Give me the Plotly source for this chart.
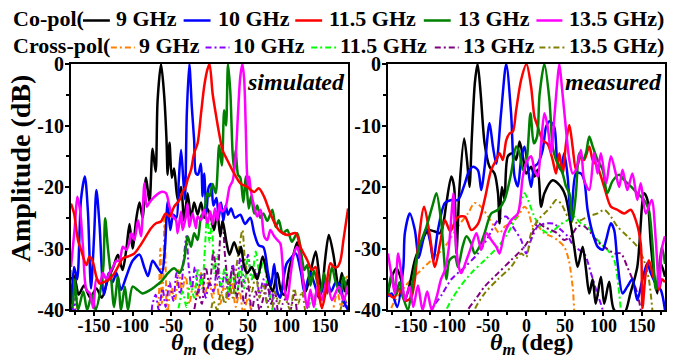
import plotly.graph_objects as go

# ---------------- data ----------------
freq_labels = ["9 GHz", "10 GHz", "11.5 GHz", "13 GHz", "13.5 GHz"]
panel_labels = ["simulated", "measured"]
x_ticks = [-150, -100, -50, 0, 50, 100, 150]
y_ticks = [-40, -30, -20, -10, 0]

# simulated co-pol (theta deg, amplitude dB)
sim_co_9 = [(-180,-35),(-176,-34.5),(-170,-37.5),(-163,-36),(-155,-38),(-147,-36.5),(-140,-38),(-132,-35),(-125,-33),(-119,-31),(-113,-33.5),(-108,-30),(-104,-26),(-100,-30),(-95,-25),(-91,-22.5),(-87,-25),(-82.5,-18.5),(-78,-22.5),(-74,-13.8),(-70,-17.5),(-67.5,-6),(-63,0),(-59,-5),(-56,-12),(-54.4,-18),(-52,-12.8),(-49,-18.5),(-46,-17),(-41.5,-22),(-37,-20),(-33,-25.5),(-28.5,-21),(-24,-25),(-20,-22.5),(-15.5,-24.5),(-11,-22.5),(-7,-25),(-3,-23.5),(2,-25),(6,-27),(10,-24),(14,-28),(17,-25.5),(22,-29),(26,-31),(32,-29),(38,-31),(41,-29.7),(45,-33),(49,-34),(55,-33),(62,-35),(69,-31.3),(76,-35),(82,-37),(88,-34),(93,-37),(97,-37.5),(104,-33),(109,-31),(114,-29),(119,-33),(125,-37),(131,-34),(138,-30.5),(143,-35),(146,-37),(150,-32),(155,-27.8),(161,-31),(168,-36.5),(172,-34),(176,-37),(180,-35)]
sim_co_10 = [(-180,-40),(-176,-33),(-172,-35),(-167,-22),(-162,-18.3),(-158,-24),(-154,-36.5),(-150,-28),(-147,-20.5),(-143,-26),(-137,-37.5),(-131,-34),(-126,-35.5),(-121,-34),(-115,-36.7),(-108,-34.5),(-100,-32),(-91,-31),(-85,-33),(-80,-34.5),(-74,-32),(-68,-33),(-62,-34),(-58,-30),(-54.4,-22.4),(-51,-27),(-47,-24.5),(-43,-25),(-40,-19),(-37,-14),(-34,-19),(-32,-22),(-29.5,-8),(-26.3,0),(-23,-7),(-20,-12.4),(-17.7,-17.8),(-15,-18),(-11.2,-16.2),(-9,-21.5),(-7,-17.8),(-4,-24),(-1,-20),(2,-19.5),(5,-23),(9,-21.8),(12,-25),(15,-22.5),(18,-25.5),(21,-23),(24,-24.5),(28,-23.5),(33,-25),(40,-24.5),(46,-26),(53,-25),(58,-27.5),(64,-29.5),(70,-29.8),(76,-34),(80,-36),(84,-32.5),(88,-37),(92,-38),(96,-35),(100,-32.5),(106,-31.5),(112,-30.8),(119,-34),(123,-37),(128,-35),(131,-34),(137,-36),(142,-38),(147,-36.5),(152,-35),(158,-37),(164,-35.5),(170,-36),(174,-38.5),(180,-40)]
sim_co_11_5 = [(-180,-22.7),(-176,-24.3),(-171,-28.6),(-167,-30.2),(-160,-32.7),(-156,-31.3),(-152,-32),(-147,-34.6),(-143,-35.7),(-136,-35.4),(-130,-35),(-123.5,-34),(-119,-33),(-112.7,-31.6),(-106,-31.3),(-97.6,-30.8),(-91,-29.7),(-82.5,-28),(-76,-26.7),(-69.5,-25.9),(-63,-25.6),(-57,-24.3),(-52,-24.8),(-46,-23.2),(-39,-22.1),(-35,-20.8),(-31,-20),(-28.5,-18.8),(-24,-17.2),(-20,-14.5),(-15.5,-12.9),(-11,-8),(-7,-3.7),(-3,-1),(0,0),(4,-4.8),(8,-8),(12.5,-11.3),(17,-14),(23,-15.6),(32,-17.8),(40,-19.4),(49,-20),(58,-20.8),(64,-20.2),(71,-21.6),(79,-24.3),(90,-27),(101,-27.8),(112,-27.5),(118,-29.7),(127,-31.9),(133,-33.5),(137.7,-33),(142,-37.3),(146,-39.7),(151,-37),(157,-32.4),(161.5,-33),(166,-33),(170,-32),(174,-28.6),(180,-23.5)]
sim_co_13 = [(-180,-39),(-178,-39.5),(-175,-35),(-171,-40),(-164,-37),(-159,-40),(-153,-37.5),(-148,-40),(-142,-37),(-138,-33),(-135.6,-25.1),(-132,-30),(-128,-34.6),(-124,-39.5),(-119,-34.6),(-115,-40),(-110,-36.2),(-106,-40),(-100,-36.2),(-93,-36.8),(-87,-37.3),(-78,-36.8),(-71,-36.2),(-63,-35.4),(-54,-34),(-46,-33.2),(-39,-34),(-33,-31.9),(-28.5,-28),(-24,-29.7),(-20,-27.5),(-15.5,-28.6),(-11,-24.8),(-7,-24),(-3,-21),(0,-21.5),(4,-19.5),(8,-21),(12.5,-13.2),(16,-16.5),(19,-7.5),(21.5,-10),(24,0),(27,-4.5),(30,-14.5),(32,-17.2),(34,-14),(37,-18),(40,-18.5),(44,-22.5),(47,-18.3),(51,-23.5),(54,-21.5),(58,-24.3),(62,-23),(66,-25),(70,-24.3),(75,-25.5),(81.6,-23.7),(86,-26.5),(90,-25.4),(95,-27.5),(101,-27),(107,-28.9),(114,-27.5),(120.5,-31.9),(123,-33.5),(127,-32.7),(131,-36),(135.6,-33.6),(140,-35.5),(144,-37.3),(149,-34),(153,-37.3),(159,-33),(164,-35.5),(170,-37.3),(174,-34.6),(178.8,-37.3),(180,-37)]
sim_co_13_5 = [(-180,-33),(-175,-26.4),(-171.8,-21.6),(-168,-24),(-164.5,-29.7),(-160,-36.7),(-155.5,-37.3),(-151,-39.7),(-147,-35),(-142.5,-35.5),(-138.6,-34),(-134,-35),(-130,-34),(-125.5,-33),(-121,-32),(-117,-32),(-112.7,-29.7),(-108,-30.2),(-104,-28.9),(-101.5,-27.5),(-97.6,-28.6),(-93,-25.4),(-89,-28),(-84.6,-19.4),(-81.5,-23.2),(-78,-22.5),(-71.7,-21.6),(-63,-20.8),(-56.6,-21),(-52,-23.2),(-47.7,-24.8),(-43.6,-25.4),(-41.5,-27.5),(-37,-24),(-35,-27),(-30.7,-24.8),(-28.5,-22.7),(-26.3,-26.5),(-22,-24.3),(-17.7,-26.7),(-15.5,-24.8),(-11.2,-25.4),(-7,-23.7),(-2.6,-25.9),(1,-24),(4,-26),(7,-23.5),(10,-25.5),(13,-22.7),(16,-24),(21,-23.2),(26,-20),(30,-19),(34,-15),(37,-8),(40,-2),(42.7,0),(45,-2.5),(47,-10),(48.5,-17.2),(50,-20),(51.5,-18.3),(53.5,-20.5),(58,-23.2),(62,-24.8),(66.5,-23.7),(71,-28),(75,-28.6),(79,-27),(84,-28),(88,-28.6),(92,-29.2),(94.5,-31.9),(97,-36.2),(101,-38.4),(105,-34.6),(109.7,-30.8),(114,-29.7),(118,-31.9),(122.6,-36.2),(127,-39.7),(131,-36.7),(135.6,-39.5),(140,-36.2),(146,-38.4),(152.5,-35.1),(159,-38.4),(168,-36.2),(174,-38.4),(180,-36)]

# simulated cross-pol
sim_x_9 = [(-180,-33.5),(-178,-37),(-175,-34),(-172,-38),(-169,-42),(-100,-42),(-70,-42),(-66,-38),(-64,-30),(-62,-39),(-60,-34),(-58.5,-24.8),(-57,-33),(-55,-41),(-50,-36),(-45,-38.5),(-40,-33.5),(-36,-37),(-31,-34.5),(-26,-39),(-21,-35.5),(-16,-38),(-11,-34),(-6,-37.5),(-1,-35),(4,-38),(9,-35.5),(14,-39),(19,-36),(24,-38.5),(29,-35.5),(34,-39.5),(39,-37),(44,-40.5),(50,-38),(56,-41),(62,-42),(150,-42),(160,-40),(166,-37),(171,-39.5),(176,-35),(180,-34.5)]
sim_x_10 = [(-180,-37),(-177,-40),(-174,-38),(-171,-42),(-80,-42),(-74,-39),(-70,-37.5),(-66,-40),(-61,-36.5),(-57,-39.5),(-52,-35.5),(-47,-38.5),(-43,-34),(-38,-37.5),(-33,-31),(-30,-28),(-27,-33),(-23,-36.5),(-19,-33),(-14,-37),(-10,-34),(-5,-38),(0,-35.5),(5,-37),(10,-33),(15,-36.5),(20,-34),(25,-38),(30,-32.5),(35,-36),(40,-31.5),(45,-35.5),(50,-31),(55,-35),(60,-33.5),(65,-37.5),(70,-35),(75,-39),(80,-36.5),(85,-40),(92,-42),(170,-42),(175,-38),(180,-40)]
sim_x_11_5 = [(-45,-42),(-40,-39.5),(-35,-37),(-30,-39.5),(-25,-35.5),(-20,-38),(-15,-33.5),(-10,-36.5),(-6,-30),(-3,-24),(0,-29),(3,-25.5),(6,-34),(10,-31),(15,-36),(20,-33),(25,-37),(30,-34),(35,-38),(40,-33),(45,-36.5),(50,-31.5),(55,-35),(60,-30.5),(65,-34),(70,-32),(75,-36),(80,-38.5),(85,-41),(125,-42),(130,-39),(135,-37.5),(140,-41),(145,-42)]
sim_x_13 = [(-25,-42),(-20,-40),(-15,-37),(-10,-39),(-5,-33),(0,-36),(5,-30.5),(10,-35),(14,-28),(17,-25.5),(20,-31),(25,-36),(30,-33),(35,-38),(40,-34.5),(45,-39),(50,-36),(55,-40),(60,-37),(65,-40),(70,-38),(75,-35.5),(80,-39),(85,-37),(90,-41),(95,-39),(100,-38),(105,-40),(110,-37.5),(115,-41),(120,-42)]
sim_x_13_5 = [(0,-42),(5,-38.5),(10,-40),(15,-37),(20,-39),(25,-35),(30,-38),(35,-33),(39,-29.5),(42.7,-27),(46,-32),(50,-35),(55,-37),(60,-34),(65,-38),(70,-36),(75,-39),(80,-41),(85,-37),(90,-39),(95,-36),(100,-38.5),(105,-40),(110,-36.5),(115,-39),(120,-37),(125,-40.5),(130,-42),(165,-42),(170,-40),(175,-38),(180,-40)]

# measured co-pol
meas_co_9 = [(-180,-37.3),(-175,-34.6),(-168.8,-33.2),(-163,-35),(-158,-38.4),(-152,-36),(-145,-31.9),(-136,-28.9),(-128,-27),(-120,-27.2),(-112.7,-27.5),(-108,-25.9),(-104,-22.6),(-97.6,-18.3),(-94,-20),(-91,-30.8),(-87,-20),(-81,-12.1),(-77,-16),(-74,-20),(-71,-12),(-67,-3),(-63.5,0),(-59.5,-4.8),(-54.4,-12.9),(-48,-16.7),(-41.5,-17.8),(-37,-21),(-35,-25.9),(-32,-20),(-28.5,-22),(-24.2,-15),(-17.7,-14.5),(-13.4,-15.6),(-9,-12.6),(-4.7,-15),(-0.4,-17.8),(6,-16.7),(10.4,-18.3),(14.7,-17.2),(19,-23.2),(23.3,-21),(34,-18.9),(45,-20),(51,-21.6),(58,-26.4),(62,-29.7),(66.5,-33),(73,-29.7),(77,-33),(81.6,-37.3),(86,-35),(90,-39),(96.7,-34.6),(101,-39),(107.5,-35.4),(114,-40),(127,-40.5),(135,-37.3),(144,-33),(152.8,-21),(157,-22),(161.5,-29.2),(166,-34.6),(170,-37.3),(174.4,-32.4),(180,-34.6)]
meas_co_10 = [(-180,-37.8),(-175,-37.3),(-168,-39.5),(-160,-33),(-158,-27.5),(-151.6,-24.3),(-145,-27),(-140,-31.5),(-135,-29),(-130,-26.7),(-125,-29),(-121,-31.9),(-115,-27),(-106,-22.6),(-97.6,-22.1),(-89,-22.1),(-80,-19.4),(-75,-17.5),(-69.5,-16.7),(-63,-17.3),(-58.7,-20.5),(-54.4,-16.8),(-48,-9.6),(-43.5,-13.5),(-39.3,-16.2),(-33,-8),(-26.3,0),(-20,-8),(-15.5,-18.3),(-11.2,-19.9),(-7,-15.6),(-2.6,-13.4),(1.7,-16.7),(6,-20),(10.4,-16.7),(14.7,-16.2),(21,-14),(25.5,-10.2),(30,-9.3),(36,-10.2),(40,-15.6),(44.5,-17.2),(49,-14.5),(53.5,-18.3),(58,-25.4),(64.3,-17.8),(70.8,-17.8),(75,-18.9),(79.4,-23.7),(86,-27.5),(92.4,-29.7),(99,-30.2),(103.5,-28.6),(109.7,-25.9),(114,-27),(118,-31.9),(124.8,-37.3),(131,-36.2),(137.7,-35),(144,-38.4),(150.7,-35),(157,-32.4),(161.5,-34),(170,-36.2),(174.4,-36.7),(180,-40)]
meas_co_11_5 = [(-180,-37.3),(-172,-38),(-165,-36.5),(-158,-38.5),(-150,-38),(-145,-35),(-141,-29.7),(-133,-23.2),(-126,-27.5),(-119,-33),(-112,-29),(-106,-25.4),(-99,-27.2),(-90,-25),(-80,-24.8),(-71.7,-27),(-63,-26),(-54.4,-22.1),(-45.8,-17.2),(-39.3,-15.6),(-35,-14.5),(-30.7,-15.6),(-26.3,-12.4),(-22,-11.3),(-17.7,-11),(-13.4,-7.5),(-7,-2.6),(0,0),(6,-3.7),(10.4,-8.6),(14.7,-10.2),(21,-12.4),(27.6,-13),(34,-15.6),(38.4,-17.8),(42.7,-14.5),(47,-17.8),(51.4,-12.9),(55.7,-9.9),(60,-13.5),(64.3,-17.2),(70.8,-15),(75,-15.6),(81.6,-13.4),(86,-15.6),(92.4,-16.7),(101,-20),(109.7,-23.2),(118,-23.7),(127,-24.3),(135.6,-23.7),(142,-25.4),(148.5,-29.2),(150.7,-39.7),(155,-34),(159,-31.9),(165,-34.6),(172,-36.7),(176,-35),(180,-35.5)]
meas_co_13 = [(-180,-37.3),(-175,-34),(-170,-37.5),(-165,-35.5),(-160,-38),(-154,-40),(-148,-35.5),(-140,-30),(-130,-26.5),(-122,-23),(-117,-21),(-111,-25.4),(-104,-35),(-100,-31.9),(-93,-31.3),(-89,-33),(-83,-29.7),(-78,-28),(-71.7,-29.2),(-67.4,-30.8),(-61,-29.7),(-54.4,-27.5),(-45.8,-24.3),(-37,-23.7),(-28.5,-22.1),(-20,-17.8),(-13.4,-13.4),(-9,-14.5),(-4.7,-17.2),(-0.4,-16.2),(5.2,-8),(9.5,-12.9),(13.8,-11.8),(17,-5),(23.3,0),(29.8,-5.8),(34,-13.4),(38.4,-15.6),(42.7,-16.7),(47,-17.8),(51.4,-19.9),(55.7,-21),(60,-25.4),(64.3,-21),(68.7,-14.5),(73,-15.6),(77.3,-14.5),(81.6,-11.8),(86,-13.4),(92.4,-15.6),(99,-17.2),(105,-21),(112,-19),(120.5,-18),(127,-18.9),(135.6,-19.9),(144,-21),(152.8,-22.1),(159,-23.7),(163.6,-29.2),(168,-36.7),(172.3,-33),(176,-29.7),(180,-32.5)]
meas_co_13_5 = [(-180,-30.8),(-175,-34.6),(-171,-37.3),(-166.7,-30.8),(-162,-34.6),(-158,-38.4),(-152,-36.2),(-147,-39.5),(-141,-36),(-135,-40),(-129,-37),(-123,-40),(-117,-38),(-111,-35),(-106,-33.5),(-101,-30),(-97.6,-24.8),(-95,-21),(-93,-27),(-88,-33),(-84.6,-34),(-78,-31.9),(-71.7,-29.7),(-65,-27.5),(-58.7,-30.2),(-52,-27.5),(-45.8,-28.6),(-39.3,-29.7),(-35,-30.8),(-28.5,-27.5),(-20,-25.4),(-11.2,-24.3),(-4.7,-18.3),(0,-16),(6,-15),(10.4,-17.2),(14.7,-18.3),(19,-12.9),(23.3,-8),(27.6,-10.2),(32,-14.5),(36,-9),(40,-3),(42.7,0),(46,-3.7),(51,-10.2),(55.7,-15.6),(60,-17.8),(64.3,-17.2),(70.8,-14),(75,-18.9),(81.6,-20.5),(88,-14.5),(92.4,-17.8),(96.7,-14.5),(103.5,-19.4),(109.7,-15),(116,-17.8),(120.5,-20),(124.8,-17.2),(131,-20.5),(137.7,-17.8),(144,-22.1),(148.5,-19.4),(155,-24.3),(162.7,-22.1),(168,-28.6),(172.3,-36.2),(176,-30),(180,-28)]

# measured cross-pol
meas_x_9 = [(-178,-42),(-175,-39.5),(-158,-36.2),(-141,-34),(-123.5,-31.9),(-106,-29.7),(-89,-26.4),(-76,-24.3),(-67.4,-22.6),(-59,-23.2),(-50,-24.8),(-42,-26.4),(-35,-27.5),(-28,-26.4),(-20,-25.9),(-11.2,-24.8),(-2.6,-23.2),(2,-23.8),(8.5,-26.4),(14.7,-26.4),(23,-27.5),(32,-28),(40,-28.6),(49,-29.7),(55,-31.9),(60,-36.2),(62,-40),(63,-42)]
meas_x_10 = [(-125,-41),(-123.5,-40),(-110,-37.5),(-97.6,-35),(-80,-33),(-63,-30.8),(-50,-28.2),(-37,-25.4),(-26.3,-24.8),(-18,-26.4),(-7,-28.6),(-0.4,-30.8),(6,-28.6),(14.7,-26.4),(27.6,-25.9),(36,-26),(45,-27),(53.5,-28),(62,-29.7),(75,-30.8),(83.8,-34),(92,-37.3),(99,-40),(100,-42)]
meas_x_11_5 = [(-106,-42),(-104,-40),(-89,-36.7),(-71.7,-34),(-54.4,-31.9),(-37,-29.7),(-24.2,-27.5),(-11.2,-24.3),(-2.6,-21),(2,-22.1),(8.5,-24.3),(14.7,-25.9),(21,-27),(27.6,-27.5),(36,-27),(45,-26),(53.5,-25.4),(62,-24.8),(70.8,-25.9),(79.4,-26.4),(88,-28),(96.7,-29.2),(105,-30.2),(114,-31.9),(118,-34.6),(122.6,-40),(124,-42)]
meas_x_13 = [(-78,-42),(-76,-40),(-67,-38.4),(-54.4,-36.2),(-37,-34),(-20,-31.9),(-2.6,-29.7),(6,-28),(14.7,-25.9),(23.3,-26.5),(32,-27),(40,-27.5),(49,-28.6),(57.9,-28),(66.5,-26.4),(75,-26.4),(83.8,-27.5),(92.4,-28.9),(101,-29.7),(114,-30.8),(122.6,-30.8),(131,-33),(137.7,-35),(144,-37.3),(148.5,-40),(150,-42)]
meas_x_13_5 = [(-69,-42),(-67.4,-40),(-54.4,-37.3),(-37,-35),(-20,-33),(-7,-30.8),(-0.4,-31.4),(6,-27.5),(14.7,-25.4),(23.3,-24.3),(32,-23.2),(38.4,-22.1),(45,-22.7),(53.5,-24.8),(62,-25.9),(70.8,-25.4),(79.4,-24.8),(92.4,-24.3),(101,-23.7),(109.7,-24.8),(118,-26.4),(131,-28),(144,-29.7),(152.8,-32),(159,-35),(163.6,-40),(165,-42)]

sim_co = [sim_co_9, sim_co_10, sim_co_11_5, sim_co_13, sim_co_13_5]
sim_x = [sim_x_9, sim_x_10, sim_x_11_5, sim_x_13, sim_x_13_5]
meas_co = [meas_co_9, meas_co_10, meas_co_11_5, meas_co_13, meas_co_13_5]
meas_x = [meas_x_9, meas_x_10, meas_x_11_5, meas_x_13, meas_x_13_5]

# ---------------- style ----------------
co_colors = ["#000000", "#0000ff", "#ff0000", "#008000", "#ff00ff"]
x_colors = ["#ff8000", "#8a00ff", "#00ff00", "#800080", "#808000"]
DASHDOT = "6px,3px,2px,3px"
FONT = "Liberation Serif"
W, H = 679, 360
ML, MR, MT, MB = 71, 12, 64, 50
PW, PH = W - ML - MR, H - MT - MB


def px(x):
    return (x - ML) / PW


def py(y):
    return (MT + PH - y) / PH


fig = go.Figure()


def add_series(series, colors, xa, ya, dash, width):
    for s, c, lab in zip(series, colors, freq_labels):
        th = [p[0] for p in s]
        db = [p[1] for p in s]
        fig.add_trace(go.Scatter(x=th, y=db, mode="lines", name=lab, showlegend=False,
                                 line=dict(color=c, width=width, dash=dash, shape="spline", smoothing=0.8),
                                 xaxis=xa, yaxis=ya, hoverinfo="skip"))


# simulated panel: cross-pol under, co-pol (red on top)
add_series(sim_x, x_colors, "x", "y", DASHDOT, 2)
order = [0, 1, 3, 4, 2]
add_series([sim_co[i] for i in order], [co_colors[i] for i in order], "x", "y", "solid", 2.5)
add_series(meas_x, x_colors, "x2", "y2", DASHDOT, 2)
add_series(meas_co, co_colors, "x2", "y2", "solid", 2.5)

xdom1 = [0, 278 / PW]
xdom2 = [318 / PW, 1]
axis_common = dict(showline=True, linecolor="black", linewidth=2, mirror=True,
                   ticks="outside", ticklen=4, tickwidth=1.5, tickcolor="black",
                   showgrid=False, zeroline=False)
for xa, dom, ya in (("xaxis", xdom1, "y"), ("xaxis2", xdom2, "y2")):
    fig.update_layout({xa: dict(axis_common, domain=dom, range=[-180, 180], anchor=ya,
                                tickvals=x_ticks, ticktext=[str(v) for v in x_ticks],
                                ticklabelstandoff=-6,
                                tickfont=dict(family=FONT, size=18, color="black", weight="bold"),
                                minor=dict(tickvals=[-175, -125, -75, -25, 25, 75, 125, 175],
                                           ticks="outside", ticklen=3, tickcolor="black", tickwidth=1.5))})
for ya, xa in (("yaxis", "x"), ("yaxis2", "x2")):
    fig.update_layout({ya: dict(axis_common, domain=[0, 1], range=[-40, 0], anchor=xa,
                                tickvals=y_ticks, ticktext=[str(v) for v in y_ticks],
                                ticklabelstandoff=-3,
                                tickfont=dict(family=FONT, size=20, color="black", weight="bold"),
                                minor=dict(tickvals=[-35, -25, -15, -5],
                                           ticks="outside", ticklen=3, tickcolor="black", tickwidth=1.5))})

ann = []
shapes = []
# axis titles
ann.append(dict(x=px(20), y=py(169), xref="paper", yref="paper", text="Amplitude (dB)",
                textangle=-90, showarrow=False, xanchor="center", yanchor="middle",
                font=dict(family=FONT, size=28, color="black", weight="bold")))
for cx in (213, 534):
    ann.append(dict(x=px(cx), y=py(344), xref="paper", yref="paper",
                    text="<i>θ</i><sub><i>m</i></sub> (deg)", showarrow=False,
                    xanchor="center", yanchor="middle",
                    font=dict(family=FONT, size=24, color="black", weight="bold")))
# panel labels
for lab, rx in zip(panel_labels, (348, 666)):
    ann.append(dict(x=px(rx), y=py(82), xref="paper", yref="paper", text="<i>" + lab + "</i>",
                    showarrow=False, xanchor="right", yanchor="middle",
                    font=dict(family=FONT, size=24, color="black", weight="bold")))

# two-row legend
rows = [
    ("Co-pol(", 18.5, co_colors, "solid",
     [(83, 110, 114), (184, 211, 216), (296, 323, 328), (425, 452, 457), (538, 564, 569)]),
    ("Cross-pol(", 45.5, x_colors, "dashdot",
     [(111, 135, 137), (206, 230, 232), (312, 337, 339), (436, 460, 462), (541, 567, 569)]),
]
for title, yc, cols, dash, items in rows:
    ann.append(dict(x=px(11), y=py(yc), xref="paper", yref="paper", text=title, showarrow=False,
                    xanchor="left", yanchor="middle",
                    font=dict(family=FONT, size=22, color="black", weight="bold")))
    for (x0, x1, tx), c, lab in zip(items, cols, freq_labels):
        txt = lab + (")" if lab == freq_labels[-1] else "")
        shapes.append(dict(type="line", xref="paper", yref="paper", x0=px(x0), x1=px(x1),
                           y0=py(yc + 2), y1=py(yc + 2),
                           line=dict(color=c, width=2.5 if dash == "solid" else 2,
                                     dash="solid" if dash == "solid" else DASHDOT)))
        ann.append(dict(x=px(tx), y=py(yc), xref="paper", yref="paper", text=txt, showarrow=False,
                        xanchor="left", yanchor="middle",
                        font=dict(family=FONT, size=22, color="black", weight="bold")))

fig.update_layout(width=W, height=H, margin=dict(l=ML, r=MR, t=MT, b=MB),
                  plot_bgcolor="white", paper_bgcolor="white", showlegend=False,
                  annotations=ann, shapes=shapes)

fig.write_html("out.html")
